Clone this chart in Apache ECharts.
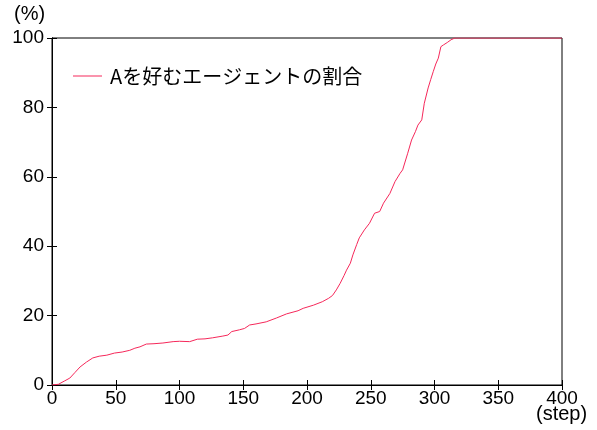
<!DOCTYPE html>
<html><head><meta charset="utf-8">
<script src="https://cdn.jsdelivr.net/npm/echarts@6/dist/echarts.min.js"></script>
<style>html,body{margin:0;padding:0;background:#fff}#c{width:597px;height:430px}</style>
</head><body><div id="c"></div>
<script>
const seriesName = 'Aを好むエージェントの割合';
const steps = [0,5,10,14,18,22,27,32,37,43,49,55,61,65,69,74,80,87,95,100,108,114,120,126,134,138,141,147,151,155,160,168,176,184,193,197,205,212,217,220,223,226,229,231,234,236,239,241,245,249,253,257,260,265,269,273,275,279,282,285,287,290,292,295,297,299,301,303,305,307,310,313,316,400];
const shares = [0,0.2,1.2,2,3.6,5.2,6.6,7.8,8.3,8.6,9.2,9.5,10,10.6,11,11.8,11.9,12.1,12.5,12.6,12.5,13.2,13.3,13.6,14.1,14.4,15.4,15.9,16.3,17.3,17.6,18.2,19.3,20.5,21.4,22.1,23,24,25,25.8,27.4,29.3,31.5,33.1,35.1,37.5,40.5,42.4,44.7,46.6,49.5,50,52.4,55.2,58.6,61,62,66.8,70.6,73,74.9,76.4,81.2,85.6,88,90.3,92.5,94.2,97.5,98,98.7,99.5,100,100];
const xTicks = [0,50,100,150,200,250,300,350,400];
const yTicks = [0,20,40,60,80,100];

const font = '"Liberation Sans", Arial, sans-serif';
const chart = echarts.init(document.getElementById('c'));
const hidden = {show:false};
chart.setOption({
  animation:false,
  grid:{left:52,right:35,top:38,bottom:45,show:true,borderColor:'#000',borderWidth:1},
  legend:{show:true,left:68,top:61,itemWidth:29,itemHeight:14,icon:'path://M0,0H29V1H0Z',
    textStyle:{fontFamily:'"Noto Sans CJK JP", sans-serif',fontSize:20,color:'#000',padding:[0,0,0,3]},
    data:[{name:seriesName,itemStyle:{color:'#f5285a'}}]},
  xAxis:[
    {type:'value',min:0,max:400,interval:50,
     axisLine:{show:true,lineStyle:{color:'#000'}},
     axisTick:{show:true,inside:true,length:5,lineStyle:{color:'#000'}},
     axisLabel:{color:'#000',fontSize:19,fontFamily:font,margin:4},
     splitLine:hidden},
    {type:'value',min:0,max:400,interval:50,position:'top',
     axisLine:{show:true,lineStyle:{color:'#000'}},
     axisTick:{show:true,inside:true,length:5,lineStyle:{color:'#000'}},
     axisLabel:hidden,splitLine:hidden}
  ],
  yAxis:[
    {type:'value',min:0,max:100,interval:20,
     axisLine:{show:true,lineStyle:{color:'#000'}},
     axisTick:{show:true,inside:true,length:5,lineStyle:{color:'#000'}},
     axisLabel:{color:'#000',fontSize:19,fontFamily:font,margin:8},
     splitLine:hidden},
    {type:'value',min:0,max:100,interval:20,position:'right',
     axisLine:{show:true,lineStyle:{color:'#000'}},
     axisTick:{show:true,inside:true,length:5,lineStyle:{color:'#000'}},
     axisLabel:hidden,splitLine:hidden}
  ],
  graphic:[
    {type:'text',left:14,top:4,style:{text:'(%)',font:'20px '+font,fill:'#000'}},
    {type:'text',left:536,top:404,style:{text:'(step)',font:'20px '+font,fill:'#000'}}
  ],
  series:[{name:seriesName,type:'line',symbol:'none',
    lineStyle:{color:'#f5285a',width:1},itemStyle:{color:'#f5285a'},
    data:steps.map((s,i)=>[s,shares[i]])}]
});
</script></body></html>
